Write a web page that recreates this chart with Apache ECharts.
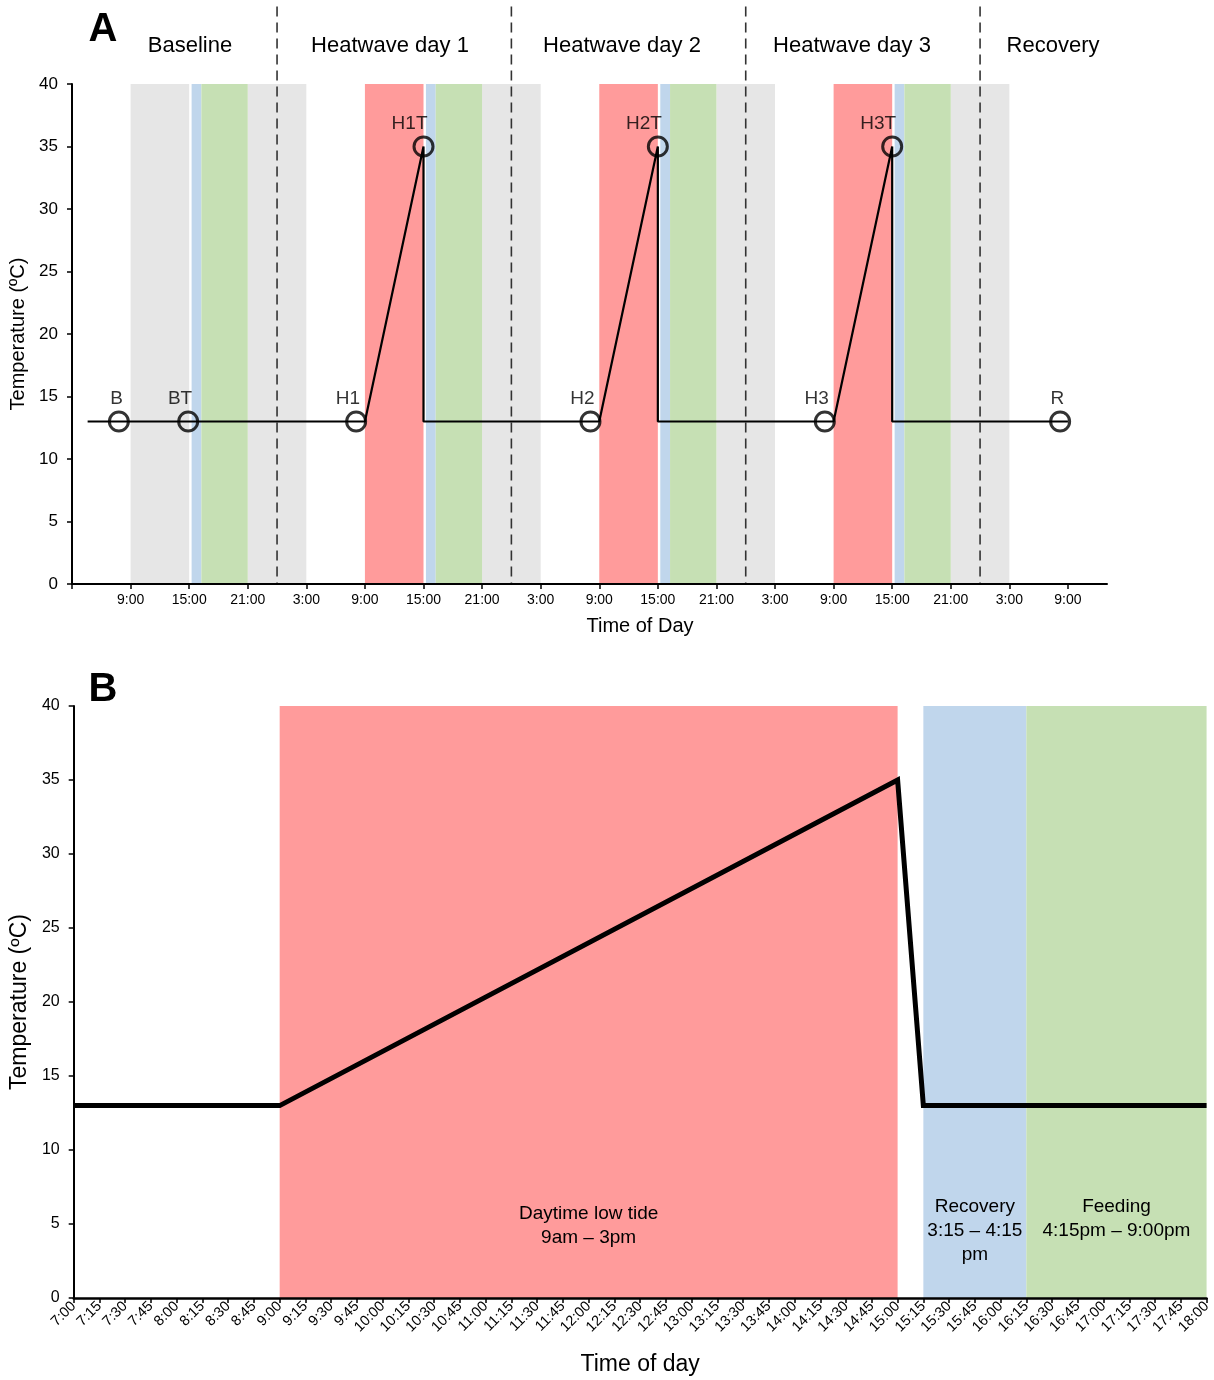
<!DOCTYPE html>
<html>
<head>
<meta charset="utf-8">
<script src="https://cdn.jsdelivr.net/npm/echarts@6/dist/echarts.min.js"></script>
<style>
  html, body { margin: 0; padding: 0; background: #ffffff; }
  #chart { width: 1214px; height: 1380px; }
</style>
</head>
<body>
<div id="chart"></div>
<script>
// ---------- Panel A: five-day schedule (hours counted from midnight of the baseline day) ----------
const tickHoursA  = [3, 9, 15, 21, 27, 33, 39, 45, 51, 57, 63, 69, 75, 81, 87, 93, 99, 105];
const tickLabelsA = ['3:00', '9:00', '15:00', '21:00', '3:00', '9:00', '15:00', '21:00', '3:00',
                     '9:00', '15:00', '21:00', '3:00', '9:00', '15:00', '21:00', '3:00', '9:00'];
const phaseNamesA = ['Baseline', 'Heatwave day 1', 'Heatwave day 2', 'Heatwave day 3', 'Recovery'];
const midnightsA  = [24, 48, 72, 96];

const greyPeriodsA     = [[9, 15], [21, 27], [45, 51], [69, 75], [93, 99]];
const heatPeriodsA     = [[33, 39], [57, 63], [81, 87]];
const recoveryPeriodsA = [[15.25, 16.25], [39.25, 40.25], [63.25, 64.25], [87.25, 88.25]];
const feedingPeriodsA  = [[16.25, 21], [40.25, 45], [64.25, 69], [88.25, 93]];

const tempProfileA = [[4.6, 13], [33, 13], [39, 35], [39, 13], [57, 13], [63, 35], [63, 13],
                      [81, 13], [87, 35], [87, 13], [105, 13]];
const sampleNamesA = ['B', 'BT', 'H1', 'H1T', 'H2', 'H2T', 'H3', 'H3T', 'R'];
const sampleHoursA = [7.8, 14.9, 32.1, 39, 56.1, 63, 80.1, 87, 104.2];
const sampleTempsA = [13, 13, 13, 35, 13, 35, 13, 35, 13];

// ---------- Panel B: one heatwave day (minutes from midnight) ----------
const tickLabelsB = ['7:00', '7:15', '7:30', '7:45', '8:00', '8:15', '8:30', '8:45', '9:00', '9:15',
  '9:30', '9:45', '10:00', '10:15', '10:30', '10:45', '11:00', '11:15', '11:30', '11:45', '12:00',
  '12:15', '12:30', '12:45', '13:00', '13:15', '13:30', '13:45', '14:00', '14:15', '14:30', '14:45',
  '15:00', '15:15', '15:30', '15:45', '16:00', '16:15', '16:30', '16:45', '17:00', '17:15', '17:30',
  '17:45', '18:00'];
const tempProfileB = [[420, 13], [540, 13], [900, 35], [915, 13], [1080, 13]];
const periodNamesB = ['Daytime low tide\n9am – 3pm', 'Recovery\n3:15 – 4:15\npm', 'Feeding\n4:15pm – 9:00pm'];
const periodSpansB = [[540, 900], [915, 975], [975, 1080]];

// ---------- styling ----------
const FONT = '"Liberation Sans", Arial, Helvetica, sans-serif';
const COL = { grey: '#E6E6E6', heat: '#FF9B9B', recovery: '#C0D6EC', feeding: '#C6E0B4', ink: '#000000' };
const TXT = '#000000';

function bandItems(periods, color) {
  return periods.map(p => [
    { xAxis: p[0], yAxis: 0, itemStyle: { color: color } },
    { xAxis: p[1], yAxis: 40 }
  ]);
}

const bandsA = [].concat(
  bandItems(greyPeriodsA, COL.grey),
  bandItems(heatPeriodsA, COL.heat),
  bandItems(recoveryPeriodsA, COL.recovery),
  bandItems(feedingPeriodsA, COL.feeding)
);

const bandColorsB = [COL.heat, COL.recovery, COL.feeding];
const bandLabelTopB = ['83.8%', '82.6%', '82.6%'];
const bandsB = periodSpansB.map((p, i) => [
  { xAxis: p[0], yAxis: 0, itemStyle: { color: bandColorsB[i] },
    label: { show: true, formatter: periodNamesB[i], position: ['50%', bandLabelTopB[i]],
             align: 'center', verticalAlign: 'top', fontSize: 19, lineHeight: 24,
             color: TXT, fontFamily: FONT } },
  { xAxis: p[1], yAxis: 40 }
]);

const axisLineStyle = { color: COL.ink, width: 2 };
const tickStyle = { color: COL.ink, width: 1.5 };

const chart = echarts.init(document.getElementById('chart'), null, { renderer: 'canvas' });

const phaseLabelPos = [[190, 46], [390, 46], [622, 46], [852, 46], [1053, 46]];

chart.setOption({
  backgroundColor: '#ffffff',
  animation: false,
  textStyle: { fontFamily: FONT },
  grid: [
    { left: 72, top: 84, width: 1035, height: 500 },
    { left: 71, top: 706, width: 1137, height: 592 }
  ],
  xAxis: [
    {
      gridIndex: 0, type: 'value', min: 3, max: 109, z: 10,
      axisLine: { show: true, lineStyle: axisLineStyle },
      axisTick: { show: true, length: 5, lineStyle: tickStyle, customValues: tickHoursA },
      axisLabel: {
        customValues: tickHoursA.slice(1),
        formatter: v => tickLabelsA[tickHoursA.indexOf(v)],
        fontSize: 14, color: TXT, margin: 9
      },
      splitLine: { show: false },
      name: 'Time of Day', nameLocation: 'middle', nameGap: 32,
      nameTextStyle: { fontSize: 20, color: TXT, padding: [0, 0, 0, 101] }
    },
    {
      gridIndex: 1, type: 'value', min: 420, max: 1080, interval: 15, z: 10,
      axisLine: { show: true, lineStyle: { color: COL.ink, width: 2.5 } },
      axisTick: { show: true, length: 5, lineStyle: tickStyle },
      axisLabel: {
        formatter: v => tickLabelsB[Math.round((v - 420) / 15)],
        rotate: 45, fontSize: 14.5, color: TXT, margin: 6,
        showMinLabel: true, showMaxLabel: true
      },
      splitLine: { show: false },
      name: 'Time of day', nameLocation: 'middle', nameGap: 55,
      nameTextStyle: { fontSize: 23, color: TXT }
    }
  ],
  yAxis: [
    {
      gridIndex: 0, type: 'value', min: 0, max: 40, interval: 5, z: 10,
      axisLine: { show: true, lineStyle: axisLineStyle },
      axisTick: { show: true, length: 5, lineStyle: tickStyle },
      axisLabel: { fontSize: 17, color: TXT, margin: 14 },
      splitLine: { show: false },
      name: 'Temperature (ºC)', nameLocation: 'middle', nameGap: 42,
      nameTextStyle: { fontSize: 20, color: TXT }
    },
    {
      gridIndex: 1, type: 'value', min: 0, max: 40, interval: 5, z: 10,
      axisLine: { show: true, lineStyle: axisLineStyle },
      axisTick: { show: true, length: 5, lineStyle: tickStyle },
      axisLabel: { fontSize: 16, color: TXT, margin: 14 },
      splitLine: { show: false },
      name: 'Temperature (ºC)', nameLocation: 'middle', nameGap: 38,
      nameTextStyle: { fontSize: 23, color: TXT }
    }
  ],
  graphic: [
    { type: 'text', x: 103, y: 30, style: { text: 'A', font: 'bold 40px ' + FONT, fill: '#000', align: 'center', verticalAlign: 'middle' } },
    { type: 'text', x: 103, y: 690, style: { text: 'B', font: 'bold 40px ' + FONT, fill: '#000', align: 'center', verticalAlign: 'middle' } }
  ].concat(phaseNamesA.map((n, i) => ({
    type: 'text', x: phaseLabelPos[i][0], y: phaseLabelPos[i][1],
    style: { text: n, font: '22px ' + FONT, fill: TXT, align: 'center', verticalAlign: 'middle' }
  }))),
  series: [
    // coloured schedule bands, panel A
    {
      type: 'line', xAxisIndex: 0, yAxisIndex: 0, z: 1, silent: true,
      data: [[3, 0]], symbol: 'none', lineStyle: { opacity: 0 },
      markArea: { silent: true, data: bandsA }
    },
    // midnight separators, panel A
    {
      type: 'custom', xAxisIndex: 0, yAxisIndex: 0, z: 2, clip: false, silent: true,
      data: midnightsA.map(h => [h, 0]),
      renderItem: (params, api) => {
        const p0 = api.coord([api.value(0), 0]);
        const p1 = api.coord([api.value(0), 46.2]);
        return {
          type: 'line',
          shape: { x1: p1[0], y1: p1[1], x2: p0[0], y2: p0[1] },
          style: { stroke: '#333', lineWidth: 1.6, lineDash: [10, 6] }
        };
      }
    },
    // temperature profile, panel A
    {
      type: 'line', xAxisIndex: 0, yAxisIndex: 0, z: 3,
      data: tempProfileA, symbol: 'none',
      lineStyle: { color: COL.ink, width: 2.2 }
    },
    // sampling points, panel A
    {
      type: 'scatter', xAxisIndex: 0, yAxisIndex: 0, z: 4,
      data: sampleNamesA.map((n, i) => ({ name: n, value: [sampleHoursA[i], sampleTempsA[i]] })),
      symbol: 'circle', symbolSize: 19,
      itemStyle: { color: 'rgba(0,0,0,0)', borderColor: COL.ink, borderWidth: 3 },
      label: {
        show: true, formatter: p => p.name, position: 'top', distance: 2,
        align: 'right', offset: [4, 0], fontSize: 19, color: TXT
      }
    },
    // schedule bands, panel B
    {
      type: 'line', xAxisIndex: 1, yAxisIndex: 1, z: 1, silent: true,
      data: [[420, 0]], symbol: 'none', lineStyle: { opacity: 0 },
      markArea: { silent: true, data: bandsB }
    },
    // temperature profile, panel B
    {
      type: 'line', xAxisIndex: 1, yAxisIndex: 1, z: 3,
      data: tempProfileB, symbol: 'none',
      lineStyle: { color: COL.ink, width: 5, join: 'miter' }
    }
  ]
});
</script>
</body>
</html>
